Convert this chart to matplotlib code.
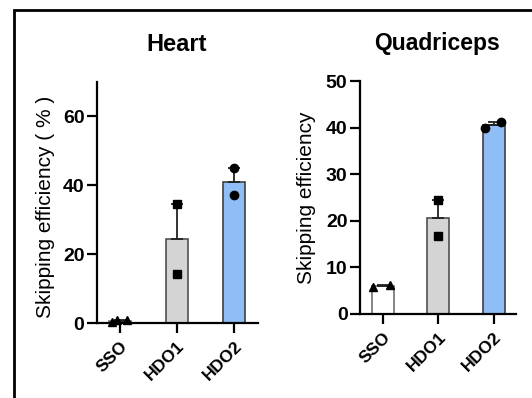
import numpy as np
import matplotlib.pyplot as plt
from matplotlib.patches import Rectangle

plt.rcParams['font.family'] = ['Liberation Sans', 'DejaVu Sans']

groups = ['SSO', 'HDO1', 'HDO2']
bar_colors = ['white', '#d4d4d4', '#8fbef7']
edge_colors = ['#707070', '#505050', '#404040']
markers = ['^', 's', 'o']

heart_pts = [[0.2, 1.0, 0.8], [34.5, 14.3], [45.0, 37.1]]
heart_jit = [[-0.14, -0.05, 0.12], [0.0, 0.0], [0.0, 0.0]]
quad_pts = [[5.7, 6.3], [24.5, 16.8], [40.0, 41.2]]
quad_jit = [[-0.18, 0.13], [0.0, 0.0], [-0.16, 0.13]]

W, H = 532, 398
fig = plt.figure(figsize=(W / 100, H / 100), dpi=100)


def px_axes(left, top, right, bottom):
    return fig.add_axes([left / W, 1 - bottom / H, (right - left) / W, (bottom - top) / H])


def draw_panel(ax, pts, jit, ylabel, ymax, yticks, xlim, lab_xy):
    x = np.arange(len(groups))
    means = [np.mean(p) for p in pts]
    sems = [np.std(p, ddof=1) / np.sqrt(len(p)) for p in pts]
    ax.bar(x, means, width=0.39, color=bar_colors, edgecolor=edge_colors,
           linewidth=1.2, zorder=2)
    ax.errorbar(x, means, yerr=[np.zeros(len(x)), sems], fmt='none',
                ecolor='#222222', elinewidth=1.3, capsize=4, capthick=1.3, zorder=3)
    for i, p in enumerate(pts):
        ax.plot(x[i] + np.array(jit[i]), p, linestyle='none', marker=markers[i],
                color='black', markersize=6, zorder=4, clip_on=False)
    ax.set_xlim(*xlim)
    ax.set_ylim(0, ymax)
    ax.set_yticks(yticks)
    ax.set_xticks(x)
    ax.set_xticklabels(groups, rotation=45, ha='right', rotation_mode='anchor',
                       fontsize=12.5, fontweight='bold')
    for lab in ax.get_yticklabels():
        lab.set_fontsize(14)
        lab.set_fontweight('bold')
    ax.spines['top'].set_visible(False)
    ax.spines['right'].set_visible(False)
    ax.spines['left'].set_linewidth(1.6)
    ax.spines['bottom'].set_linewidth(1.6)
    ax.tick_params(axis='both', width=1.6, length=7, pad=2)
    ax.tick_params(axis='x', pad=4)
    ax.set_ylabel(ylabel, fontsize=15)
    ax.yaxis.set_label_coords(*lab_xy)


ax1 = px_axes(97, 82, 258, 323)
draw_panel(ax1, heart_pts, heart_jit, 'Skipping efficiency ( % )', 70,
           [0, 20, 40, 60], (-0.4, 2.42), (-0.26, 0.483))
ax2 = px_axes(360, 81, 516, 314)
draw_panel(ax2, quad_pts, quad_jit, 'Skipping efficiency', 50,
           [0, 10, 20, 30, 40, 50], (-0.41, 2.4), (-0.28, 0.5))

fig.text(177 / W, 1 - 51 / H, 'Heart', fontsize=17, fontweight='bold',
         ha='center', va='baseline')
fig.text(437 / W, 1 - 50 / H, 'Quadriceps', fontsize=16.5, fontweight='bold',
         ha='center', va='baseline')

fig.patches.append(Rectangle((14 / W, -0.1), 1.2, 1 - 10 / H + 0.1,
                             transform=fig.transFigure, fill=False,
                             edgecolor='black', linewidth=2))

fig.savefig('out.png', dpi=100)
